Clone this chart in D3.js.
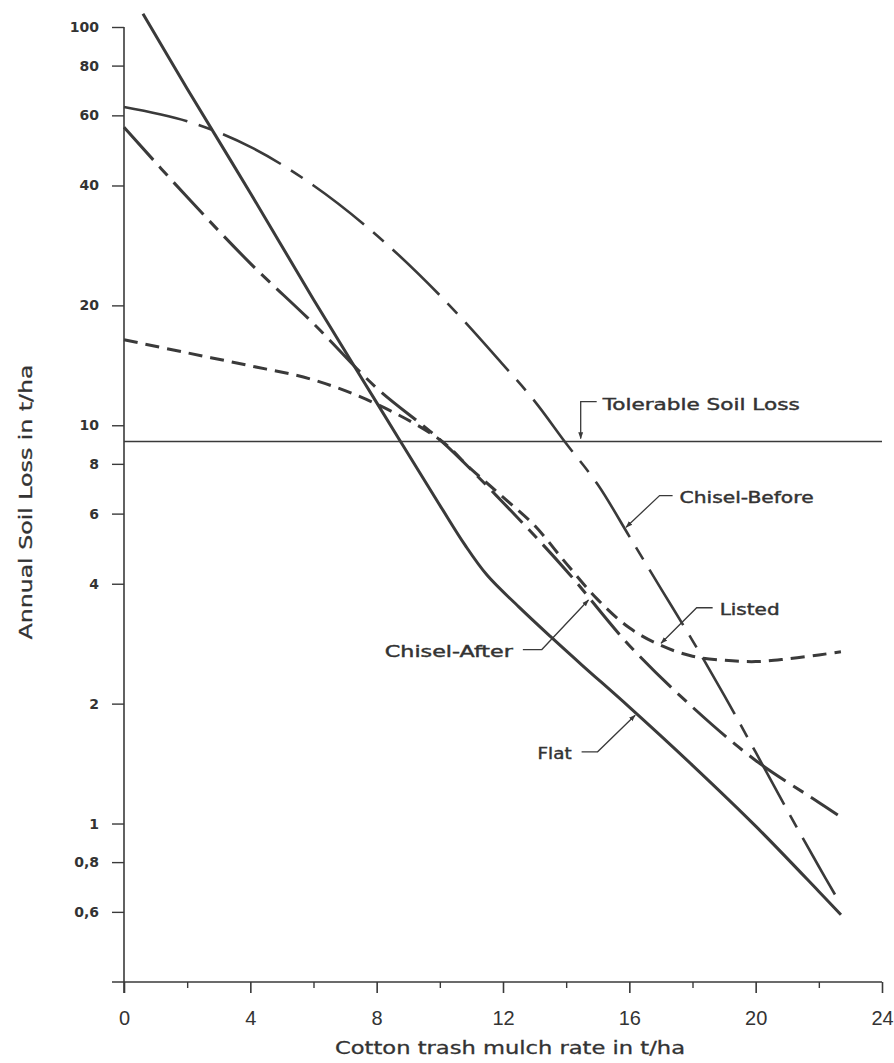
<!DOCTYPE html>
<html>
<head>
<meta charset="utf-8">
<script src="https://cdn.jsdelivr.net/npm/d3@7"></script>
<style>
  html, body { margin: 0; padding: 0; background: #fff; }
  svg { display: block; }
</style>
</head>
<body>
<svg id="chart" width="894" height="1063"></svg>
<script>
// Mulch rate (t/ha) vs annual soil loss (t/ha), log scale.
const xTicks = [0, 4, 8, 12, 16, 20, 24];
const xMinorTicks = [2, 6, 10, 14, 18, 22];
const yTicks = [100, 80, 60, 40, 20, 10, 8, 6, 4, 2, 1, 0.8, 0.6];
const yTickLabels = ["100", "80", "60", "40", "20", "10", "8", "6", "4", "2", "1", "0,8", "0,6"];

const flat = [[0.6,108],[2,70],[4,38.3],[6,20.7],[8,11.4],[10,6.3],[10.8,5.0],[11.5,4.2],[12.5,3.5],[13.5,2.95],[14.5,2.5],[16,1.96],[18,1.40],[20,0.985],[22,0.675],[22.7,0.59]];
const chiselBefore = [[0,63],[2,58],[4,50],[6,40],[8,30],[10,21.2],[12,14.2],[13,11.5],[14,9.0],[15,7.1],[16,5.26],[17,3.89],[18,2.88],[19,2.1],[20,1.51],[21,1.08],[22,0.78],[22.6,0.645]];
const chiselAfter = [[0,56],[2,37.4],[4,25.5],[6,18],[8,12.4],[10,9.2],[12,6.4],[14,4.32],[16,2.8],[18,1.96],[20,1.44],[22,1.13],[22.6,1.05]];
const listed = [[0,16.4],[2,15.2],[4,14.1],[6,13.0],[8,11.3],[10,9.2],[11,7.75],[12,6.6],[13,5.6],[14,4.5],[15,3.65],[16,3.1],[17,2.8],[18,2.63],[19,2.57],[20,2.55],[21,2.59],[22,2.65],[22.7,2.7]];
const tolerable = 9.1;

const ink = "#3a3a3a";
const svg = d3.select("#chart");

const x = d3.scaleLinear().domain([0, 24]).range([124, 882]);
const y = d3.scaleLog().domain([0.4, 100]).range([982, 27]);

// Axes
const xAxis = svg.append("g").attr("transform", `translate(0,${y(0.4)})`)
  .call(d3.axisBottom(x).tickValues(xTicks).tickFormat(d3.format("d")).tickSize(11).tickPadding(18));
xAxis.select(".domain").remove();
xAxis.selectAll("line").attr("stroke", ink).attr("stroke-width", 1.6);
xAxis.selectAll("text").attr("fill", "#333").attr("font-family", "Liberation Sans, Arial, sans-serif")
  .attr("font-size", 20);

const xMinor = svg.append("g").attr("transform", `translate(0,${y(0.4)})`)
  .call(d3.axisBottom(x).tickValues(xMinorTicks).tickFormat("").tickSize(6));
xMinor.select(".domain").remove();
xMinor.selectAll("line").attr("stroke", ink).attr("stroke-width", 1.4);

const yAxis = svg.append("g").attr("transform", `translate(${x(0)},0)`)
  .call(d3.axisLeft(y).tickValues(yTicks).tickFormat((d, i) => yTickLabels[i]).tickSize(12).tickPadding(13));
yAxis.select(".domain").remove();
yAxis.selectAll("line").attr("stroke", ink).attr("stroke-width", 1.4);
yAxis.selectAll("text").attr("fill", "#333").attr("font-family", "DejaVu Sans, sans-serif")
  .attr("font-weight", "bold").attr("font-size", 14);

// axis lines
svg.append("line").attr("x1", x(0) - 12).attr("x2", x(24)).attr("y1", y(0.4)).attr("y2", y(0.4))
  .attr("stroke", ink).attr("stroke-width", 1.6);
svg.append("line").attr("x1", x(0)).attr("x2", x(0)).attr("y1", y(100)).attr("y2", y(0.4) + 11)
  .attr("stroke", ink).attr("stroke-width", 1.6);

// axis titles
svg.append("text").attr("x", 510).attr("y", 1054).attr("text-anchor", "middle")
  .attr("font-family", "DejaVu Sans, sans-serif").attr("font-size", 17).attr("fill", "#333")
  .attr("stroke", "#333").attr("stroke-width", 0.3)
  .attr("textLength", 350).attr("lengthAdjust", "spacingAndGlyphs")
  .text("Cotton trash mulch rate in t/ha");
svg.append("text").attr("transform", "translate(32,502) rotate(-90)").attr("text-anchor", "middle")
  .attr("font-family", "DejaVu Sans, sans-serif").attr("font-size", 17).attr("fill", "#333")
  .attr("stroke", "#333").attr("stroke-width", 0.3)
  .attr("textLength", 275).attr("lengthAdjust", "spacingAndGlyphs")
  .text("Annual Soil Loss in t/ha");

// Tolerable soil loss reference line
svg.append("line").attr("x1", x(0)).attr("x2", x(24)).attr("y1", y(tolerable)).attr("y2", y(tolerable))
  .attr("stroke", ink).attr("stroke-width", 1.5);

// Curves
const line = d3.line().x(d => x(d[0])).y(d => y(d[1])).curve(d3.curveCatmullRom.alpha(0.5));
const series = [
  { data: flat, dash: null, width: 3 },
  { data: chiselBefore, dash: "65,12,14,12", width: 2.6 },
  { data: chiselAfter, dash: "44,9,12,9", width: 3 },
  { data: listed, dash: "14,8", width: 3 }
];
svg.append("g").selectAll("path").data(series).join("path")
  .attr("d", s => line(s.data))
  .attr("fill", "none").attr("stroke", ink)
  .attr("stroke-width", s => s.width)
  .attr("stroke-dasharray", s => s.dash)
  .attr("stroke-linecap", "butt");

// Labels with leader arrows
function valueAt(data, xv) {
  for (let i = 1; i < data.length; i++) {
    if (xv <= data[i][0]) {
      const [x0, y0] = data[i - 1], [x1, y1] = data[i];
      const t = (xv - x0) / (x1 - x0);
      return Math.exp(Math.log(y0) + t * (Math.log(y1) - Math.log(y0)));
    }
  }
  return data[data.length - 1][1];
}

svg.append("defs").append("marker").attr("id", "arrow")
  .attr("viewBox", "0 0 10 10").attr("refX", 9).attr("refY", 5)
  .attr("markerWidth", 7).attr("markerHeight", 7).attr("orient", "auto-start-reverse")
  .attr("markerUnits", "userSpaceOnUse")
  .append("path").attr("d", "M0,1.5 L10,5 L0,8.5 Z").attr("fill", ink);

const labels = [
  { text: "Tolerable Soil Loss", xv: 14.46, yv: tolerable, elbow: [0, -40], end: [16, -40], anchor: "start", tx: 22, ty: -32, len: 197, tipGap: 3 },
  { text: "Chisel-Before", xv: 15.85, yv: valueAt(chiselBefore, 15.85), elbow: [35, -33], end: [48, -33], anchor: "start", tx: 55, ty: -26, len: 134, tipGap: 2 },
  { text: "Listed", xv: 16.96, yv: valueAt(listed, 16.96), elbow: [37, -37], end: [53, -37], anchor: "start", tx: 60, ty: -30, len: 60, tipGap: 2 },
  { text: "Chisel-After", xv: 14.75, yv: valueAt(chiselAfter, 14.75), elbow: [-48, 51], end: [-67, 51], anchor: "end", tx: -77, ty: 58, len: 128, tipGap: 2 },
  { text: "Flat", xv: 16.23, yv: valueAt(flat, 16.23), elbow: [-39, 38], end: [-55, 38], anchor: "end", tx: -65, ty: 45, len: 34, tipGap: 2 }
];

const lg = svg.append("g");
labels.forEach(l => {
  const px = x(l.xv), py = y(l.yv);
  const ex = px + l.elbow[0], ey = py + l.elbow[1];
  const dx = px - ex, dy = py - ey, dl = Math.hypot(dx, dy);
  const tipX = px - dx / dl * l.tipGap, tipY = py - dy / dl * l.tipGap;
  lg.append("path")
    .attr("d", `M${px + l.end[0]},${py + l.end[1]} L${ex},${ey} L${tipX},${tipY}`)
    .attr("fill", "none").attr("stroke", ink).attr("stroke-width", 1.3)
    .attr("marker-end", "url(#arrow)");
  lg.append("text").attr("x", px + l.tx).attr("y", py + l.ty).attr("text-anchor", l.anchor)
    .attr("font-family", "DejaVu Sans, sans-serif").attr("font-size", 15).attr("fill", "#333")
    .attr("stroke", "#333").attr("stroke-width", 0.4)
    .attr("textLength", l.len).attr("lengthAdjust", "spacingAndGlyphs")
    .text(l.text);
});
</script>
</body>
</html>
